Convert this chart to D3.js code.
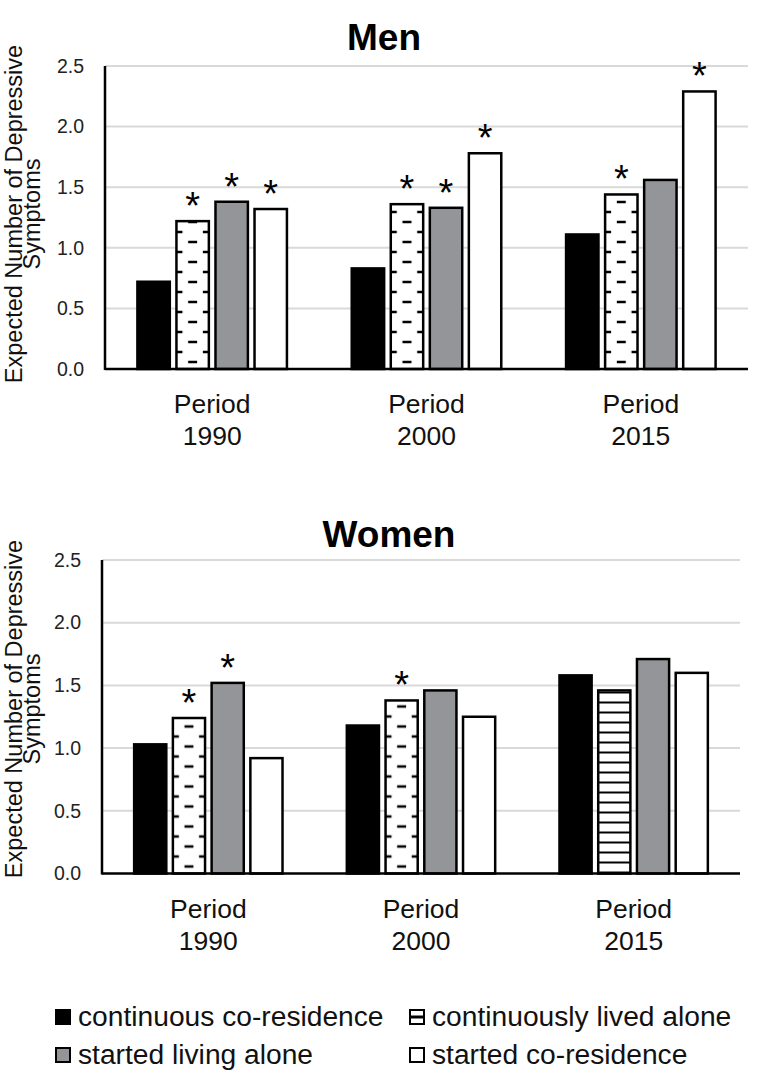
<!DOCTYPE html>
<html>
<head>
<meta charset="utf-8">
<script src="https://cdn.jsdelivr.net/npm/d3@7"></script>
<style>
  html, body { margin: 0; padding: 0; background: #fff; }
  svg { display: block; font-family: "Liberation Sans", Arial, sans-serif; }
</style>
</head>
<body>
<svg id="chart" width="768" height="1084"></svg>
<script>
// ---- data ----
const periods = ["1990", "2000", "2015"];
const periodPrefix = "Period";
const seriesNames = ["continuous co-residence", "continuously lived alone", "started living alone", "started co-residence"];
const yTicks = [0, 0.5, 1.0, 1.5, 2.0, 2.5];

// Men (values per period: 1990, 2000, 2015)
const menCoResidence   = [0.72, 0.83, 1.11];
const menLivedAlone    = [1.22, 1.36, 1.44];
const menStartedAlone  = [1.38, 1.33, 1.56];
const menStartedCoRes  = [1.32, 1.78, 2.29];
const menSignificant   = [[0, 0, 0], [1, 1, 1], [1, 1, 0], [1, 1, 1]];

// Women
const womenCoResidence  = [1.03, 1.18, 1.58];
const womenLivedAlone   = [1.24, 1.38, 1.46];
const womenStartedAlone = [1.52, 1.46, 1.71];
const womenStartedCoRes = [0.92, 1.25, 1.60];
const womenSignificant  = [[0, 0, 0], [1, 1, 0], [1, 0, 0], [0, 0, 0]];

// ---- drawing ----
const svg = d3.select("#chart");
const defs = svg.append("defs");
const FONT = '"Liberation Sans", Arial, sans-serif';
const fills = ["#000000", "pattern", "#939598", "#ffffff"];
let patId = 0;

function makePattern(kind, x, base, w) {
  const id = "pat" + (patId++);
  if (kind === "dash") {
    const p = defs.append("pattern").attr("id", id)
      .attr("patternUnits", "userSpaceOnUse")
      .attr("x", x).attr("y", base - 12)
      .attr("width", w).attr("height", 20);
    p.append("rect").attr("width", w).attr("height", 20).attr("fill", "#fff");
    p.append("rect").attr("x", w / 2 - 4.5).attr("y", 3.75).attr("width", 9).attr("height", 2.5).attr("fill", "#000");
    p.append("rect").attr("x", 0).attr("y", 13.75).attr("width", 6).attr("height", 2.5).attr("fill", "#000");
    p.append("rect").attr("x", w - 6).attr("y", 13.75).attr("width", 6).attr("height", 2.5).attr("fill", "#000");
  } else {
    const p = defs.append("pattern").attr("id", id)
      .attr("patternUnits", "userSpaceOnUse")
      .attr("x", x).attr("y", base - 6)
      .attr("width", w).attr("height", 10);
    p.append("rect").attr("width", w).attr("height", 10).attr("fill", "#fff");
    p.append("rect").attr("x", 0).attr("y", 4).attr("width", w).attr("height", 2).attr("fill", "#000");
  }
  return "url(#" + id + ")";
}

function drawPanel(cfg) {
  const { title, titleX, titleY, x0, x1, yTop, yBottom, series, sig, titleCY } = cfg;
  const g = svg.append("g");

  const x = d3.scaleBand().domain(periods).range([x0, x1]).padding(0);
  const xs = d3.scaleBand().domain(d3.range(seriesNames.length))
    .range([0, x.bandwidth()]).paddingInner(0.17).paddingOuter(0.83);
  const y = d3.scaleLinear().domain([0, 2.5]).range([yBottom, yTop]);

  // title
  g.append("text").attr("x", titleX).attr("y", titleY)
    .attr("text-anchor", "middle").attr("font-family", FONT)
    .attr("font-weight", "bold").attr("font-size", 37).text(title);

  // gridlines
  g.append("g").selectAll("line").data(yTicks.filter(d => d > 0)).join("line")
    .attr("x1", x0).attr("x2", x1)
    .attr("y1", d => y(d)).attr("y2", d => y(d))
    .attr("stroke", "#d9d9d9").attr("stroke-width", 2);

  // y axis via d3
  const yAxis = d3.axisLeft(y).tickValues(yTicks).tickFormat(d3.format(".1f")).tickSize(0).tickPadding(21);
  const ya = g.append("g").attr("transform", `translate(${x0},0)`).call(yAxis);
  ya.select(".domain").remove();
  ya.selectAll("text").attr("font-family", FONT).attr("font-size", 19.5).attr("fill", "#222");

  // bars
  const flat = [];
  periods.forEach((p, pi) => {
    series.forEach((vals, si) => {
      flat.push({ p, pi, si, v: vals[pi], s: sig[si][pi] });
    });
  });

  const bw = xs.bandwidth();
  g.append("g").selectAll("rect").data(flat).join("rect")
    .attr("x", d => x(d.p) + xs(d.si))
    .attr("y", d => y(d.v))
    .attr("width", bw)
    .attr("height", d => y(0) - y(d.v))
    .attr("fill", d => {
      if (fills[d.si] !== "pattern") return fills[d.si];
      return makePattern(d.s ? "dash" : "stripe", x(d.p) + xs(d.si), y(0), bw);
    })
    .attr("stroke", "#000").attr("stroke-width", 2.5);

  // significance asterisks
  g.append("g").selectAll("text").data(flat.filter(d => d.s)).join("text")
    .attr("x", d => x(d.p) + xs(d.si) + bw / 2)
    .attr("y", d => y(d.v) - 2)
    .attr("text-anchor", "middle").attr("font-family", FONT)
    .attr("font-size", 38).text("*");

  // axes lines
  g.append("line").attr("x1", x0).attr("x2", x0).attr("y1", yTop).attr("y2", yBottom + 1)
    .attr("stroke", "#000").attr("stroke-width", 2.5);
  g.append("line").attr("x1", x0).attr("x2", x1).attr("y1", yBottom).attr("y2", yBottom)
    .attr("stroke", "#000").attr("stroke-width", 2.5);

  // x labels
  const xl = g.append("g").selectAll("text").data(periods).join("text")
    .attr("x", d => x(d) + x.bandwidth() / 2)
    .attr("y", yBottom + 44)
    .attr("text-anchor", "middle").attr("font-family", FONT).attr("font-size", 26.5).attr("fill", "#111");
  xl.append("tspan").attr("x", d => x(d) + x.bandwidth() / 2).text(periodPrefix);
  xl.append("tspan").attr("x", d => x(d) + x.bandwidth() / 2).attr("dy", 32).text(d => d);

  // y title
  const yt = g.append("text").attr("transform", `translate(22,${titleCY}) rotate(-90)`)
    .attr("text-anchor", "middle").attr("font-family", FONT).attr("font-size", 23.5).attr("fill", "#111");
  yt.append("tspan").attr("x", 0).attr("y", 0).text("Expected Number of Depressive");
  yt.append("tspan").attr("x", 0).attr("y", 18).text("Symptoms");
}

drawPanel({
  title: "Men", titleX: 384, titleY: 50, x0: 105, x1: 748, yTop: 66, yBottom: 369, titleCY: 214,
  series: [menCoResidence, menLivedAlone, menStartedAlone, menStartedCoRes], sig: menSignificant
});
drawPanel({
  title: "Women", titleX: 389, titleY: 547, x0: 102, x1: 740, yTop: 560, yBottom: 873.5, titleCY: 709,
  series: [womenCoResidence, womenLivedAlone, womenStartedAlone, womenStartedCoRes], sig: womenSignificant
});

// legend
const legend = svg.append("g");
const legPos = [[55, 1026], [409, 1026], [55, 1064], [409, 1064]];
seriesNames.forEach((name, i) => {
  const [lx, ly] = legPos[i];
  const sq = legend.append("g");
  sq.append("rect").attr("x", lx + 1).attr("y", ly - 16).attr("width", 14).attr("height", 14)
    .attr("fill", i === 1 ? "#fff" : fills[i]).attr("stroke", "#000").attr("stroke-width", 2);
  if (i === 1) {
    sq.append("rect").attr("x", lx + 1).attr("y", ly - 10.5).attr("width", 14).attr("height", 3).attr("fill", "#000");
  }
  legend.append("text").attr("x", lx + 23).attr("y", ly).attr("font-family", FONT)
    .attr("font-size", 28.2).attr("fill", "#111").text(name);
});
</script>
</body>
</html>
